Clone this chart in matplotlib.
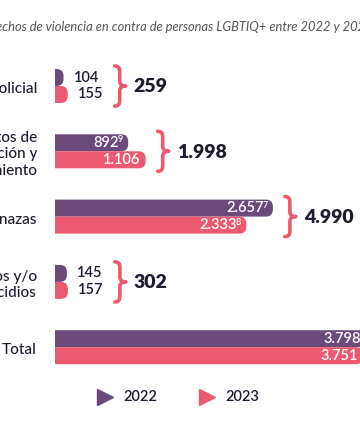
import matplotlib
matplotlib.use("Agg")
import matplotlib.pyplot as plt
from matplotlib.patches import FancyBboxPatch, PathPatch
from matplotlib.path import Path
from matplotlib.lines import Line2D
from matplotlib import transforms

plt.rcParams['font.family'] = ['Lato', 'DejaVu Sans']

# ===============================
# DATA
# ===============================
title = "Hechos de violencia en contra de personas LGBTIQ+ entre 2022 y 2023"
categories = ["Violencia policial",
              "Actos de\ndiscriminación y\nhostigamiento",
              "Amenazas",
              "Homicidios y/o\nfeminicidios",
              "Total"]
years = ["2022", "2023"]
values_2022 = [104, 892, 2657, 145, 3798]
values_2023 = [155, 1106, 2333, 157, 3751]
notes_2022 = ["", "9", "7", "", ""]
notes_2023 = ["", "", "8", "", ""]
show_sum = [True, True, True, True, False]

# ===============================
# STYLE / LAYOUT
# ===============================
PURPLE = "#6b4a7b"
PINK = "#ec5a6f"
INK = "#1d1b2f"
GREY = "#555555"

W, H, DPI = 360, 440, 100
LEFT_PX = 55          # where bars start
PX_PER_UNIT = 0.082   # bar length scale
ROW_PX = 65.3         # distance between rows
TOP_PX = 86           # centre of first row
BAR_PX = 17           # height of one bar
RADIUS_PX = 7

fig = plt.figure(figsize=(W / DPI, H / DPI), dpi=DPI)
fig.patch.set_facecolor("white")

ax = fig.add_axes([LEFT_PX / W, 0, 1 - LEFT_PX / W, 1])
ax.set_xlim(0, (W - LEFT_PX) / PX_PER_UNIT)
ax.set_ylim((H - TOP_PX) / ROW_PX, -TOP_PX / ROW_PX)
ax.axis("off")

x_per_px = 1 / PX_PER_UNIT
y_per_px = 1 / ROW_PX
bar_h = BAR_PX * y_per_px


def fmt(v):
    return f"{v:,}".replace(",", ".")


def off(dx=0, dy=0):
    return transforms.offset_copy(ax.transData, fig=fig, x=dx, y=dy, units="dots")


def rounded_bar(y0, length, color):
    r = RADIUS_PX * x_per_px
    p = FancyBboxPatch((-r, y0), length + r, bar_h,
                       boxstyle=f"round,pad=0,rounding_size={r}",
                       mutation_aspect=y_per_px / x_per_px,
                       fc=color, ec="none")
    ax.add_patch(p)


def brace(x, y, dx):
    verts = [(0, 20), (4, 20), (5, 18), (5, 14), (5, 5),
             (5, 1), (8, 0), (11, 0),
             (8, 0), (5, -1), (5, -5), (5, -14),
             (5, -18), (4, -20), (0, -20)]
    verts = [(vx + dx, vy) for vx, vy in verts]
    codes = [Path.MOVETO, Path.CURVE4, Path.CURVE4, Path.CURVE4, Path.LINETO,
             Path.CURVE4, Path.CURVE4, Path.CURVE4,
             Path.CURVE4, Path.CURVE4, Path.CURVE4, Path.LINETO,
             Path.CURVE4, Path.CURVE4, Path.CURVE4]
    tr = (transforms.Affine2D().scale(1 / DPI) + fig.dpi_scale_trans +
          transforms.ScaledTranslation(x, y, ax.transData))
    ax.add_patch(PathPatch(Path(verts, codes), fc="none", ec=PINK, lw=2.6,
                           capstyle="round", joinstyle="round",
                           transform=tr, clip_on=False))


def value_label(v, note, y, inside):
    if inside:
        dx = -5
        if note:
            ax.text(v, y, note, transform=off(dx, 3), ha="right", va="center",
                    color="white", fontsize=6.5, fontweight="semibold")
            dx -= 4.5
        ax.text(v, y, fmt(v), transform=off(dx, 0), ha="right", va="center",
                color="white", fontsize=10.5, fontweight="semibold")
    else:
        ax.text(v, y, fmt(v), transform=off(10, 0), ha="left", va="center",
                color=INK, fontsize=10.5, fontweight="semibold")


# ===============================
# BARS
# ===============================
for i, cat in enumerate(categories):
    v1, v2 = values_2022[i], values_2023[i]
    rounded_bar(i - bar_h, v1, PURPLE)
    rounded_bar(i, v2, PINK)

    inside = max(v1, v2) > 500
    value_label(v1, notes_2022[i], i - bar_h / 2, inside)
    value_label(v2, notes_2023[i], i + bar_h / 2, inside)

    ax.text(0, i, cat, transform=off(-18, -3), ha="right", va="center",
            multialignment="right", color=INK, fontsize=11,
            fontweight="medium", linespacing=1.2, clip_on=False)

    if show_sum[i]:
        gap = 12 if inside else 47
        brace(max(v1, v2), i, gap)
        ax.text(max(v1, v2), i, fmt(v1 + v2), transform=off(gap + 19, -1),
                ha="left", va="center", color=INK, fontsize=14,
                fontweight="heavy")

# ===============================
# TITLE + LEGEND
# ===============================
fig.text(0.5, 1 - 27 / H, title, ha="center", va="center", fontsize=9.3,
         style="italic", color=GREY)

for year, color, xm in zip(years, [PURPLE, PINK], [105, 207]):
    fig.add_artist(Line2D([xm / W], [1 - 397 / H], marker=">", ms=11,
                          color=color, lw=0, transform=fig.transFigure))
    fig.text((xm + 18) / W, 1 - 397 / H, year, ha="left", va="center",
             fontsize=10.5, fontweight="semibold", color=INK)

fig.savefig("out.png", dpi=DPI, facecolor="white")
